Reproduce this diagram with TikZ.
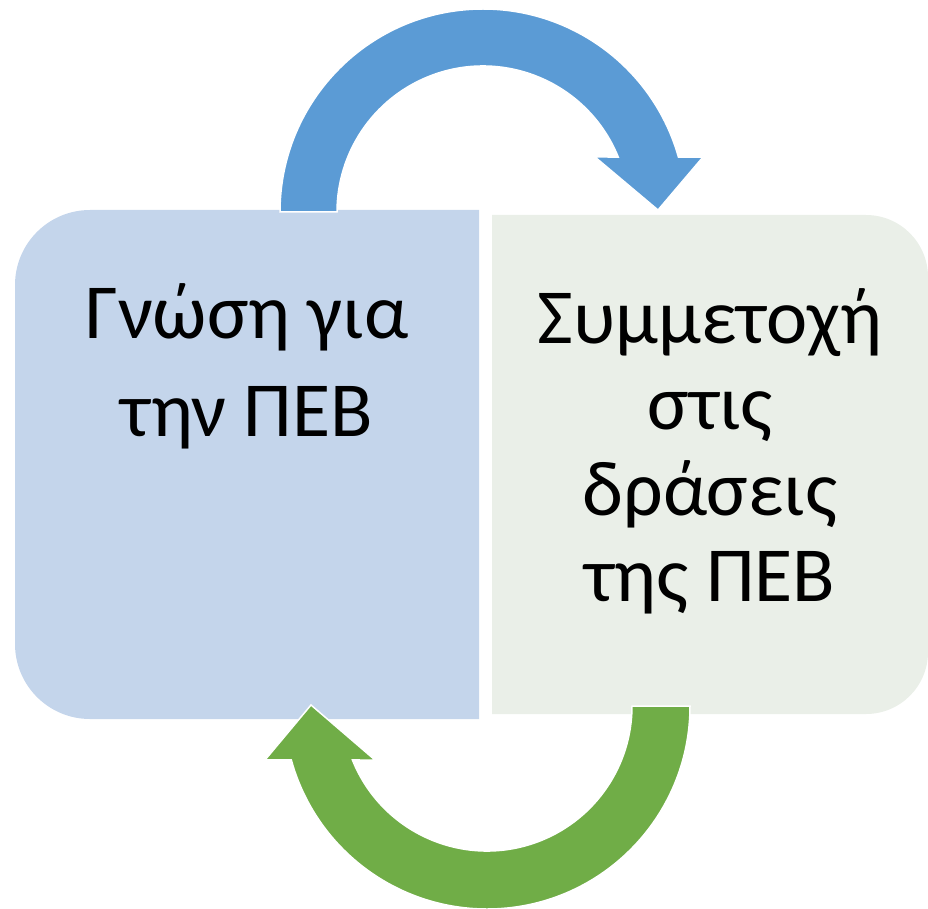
\documentclass[tikz,border=0pt]{standalone}
\usepackage{fontspec}
\setmainfont{Carlito}
\usepackage{tikz}
\usetikzlibrary{calc}
\definecolor{knowBlue}{HTML}{C4D5EB}
\definecolor{joinGreen}{HTML}{EAEFE8}
\definecolor{arrowBlue}{HTML}{5B9BD5}
\definecolor{arrowGreen}{HTML}{70AD47}

\begin{document}
\begin{tikzpicture}[x=1pt,y=1pt]
    \tikzstyle{every node} = [inner sep=0pt]
    \tikzstyle{boxtext} = [align=center, anchor=base, font=\fontsize{78}{98}\selectfont]
    \tikzstyle{cyclearrow} = [draw=white, line width=1.5pt, line join=miter]
    \useasboundingbox (0,0) rectangle (928,-909);

    % boxes
    \fill[knowBlue] (479,-210) -- (90,-210) arc[start angle=90,end angle=180,radius=75]
      -- (15,-644) arc[start angle=180,end angle=270,radius=75] -- (479,-719) -- cycle;
    \fill[joinGreen] (492,-215) -- (866,-215) arc[start angle=90,end angle=0,radius=62]
      -- (928,-652) arc[start angle=0,end angle=-90,radius=62] -- (492,-714) -- cycle;

    % place nodes
    \node[boxtext] (knowText) at (247,-436) {Γνώση για\\την ΠΕΒ};
    \node[boxtext, font=\fontsize{78}{86}\selectfont] (joinText) at (710,-601)
      {Συμμετοχή\\στις\\δράσεις\\της ΠΕΒ};

    % arrows
    \coordinate (topCentre) at (483,-212);
    \coordinate (botCentre) at (487,-706);
    \filldraw[cyclearrow, fill=arrowBlue]
    ($(topCentre)+(180:203)$) arc[start angle=180,end angle=15.7,radius=203]
      -- (703,-157) -- (658,-210) -- (595,-157)
      -- ($(topCentre)+(22.13:146)$) arc[start angle=22.13,end angle=180,radius=146] -- cycle;
    \filldraw[cyclearrow, fill=arrowGreen]
    ($(botCentre)+(0:203)$) arc[start angle=0,end angle=-164.6,radius=203]
      -- (265,-760) -- (311,-705) -- (375,-760)
      -- ($(botCentre)+(-158.14:145)$) arc[start angle=-158.14,end angle=0,radius=145] -- cycle;
\end{tikzpicture}
\end{document}
